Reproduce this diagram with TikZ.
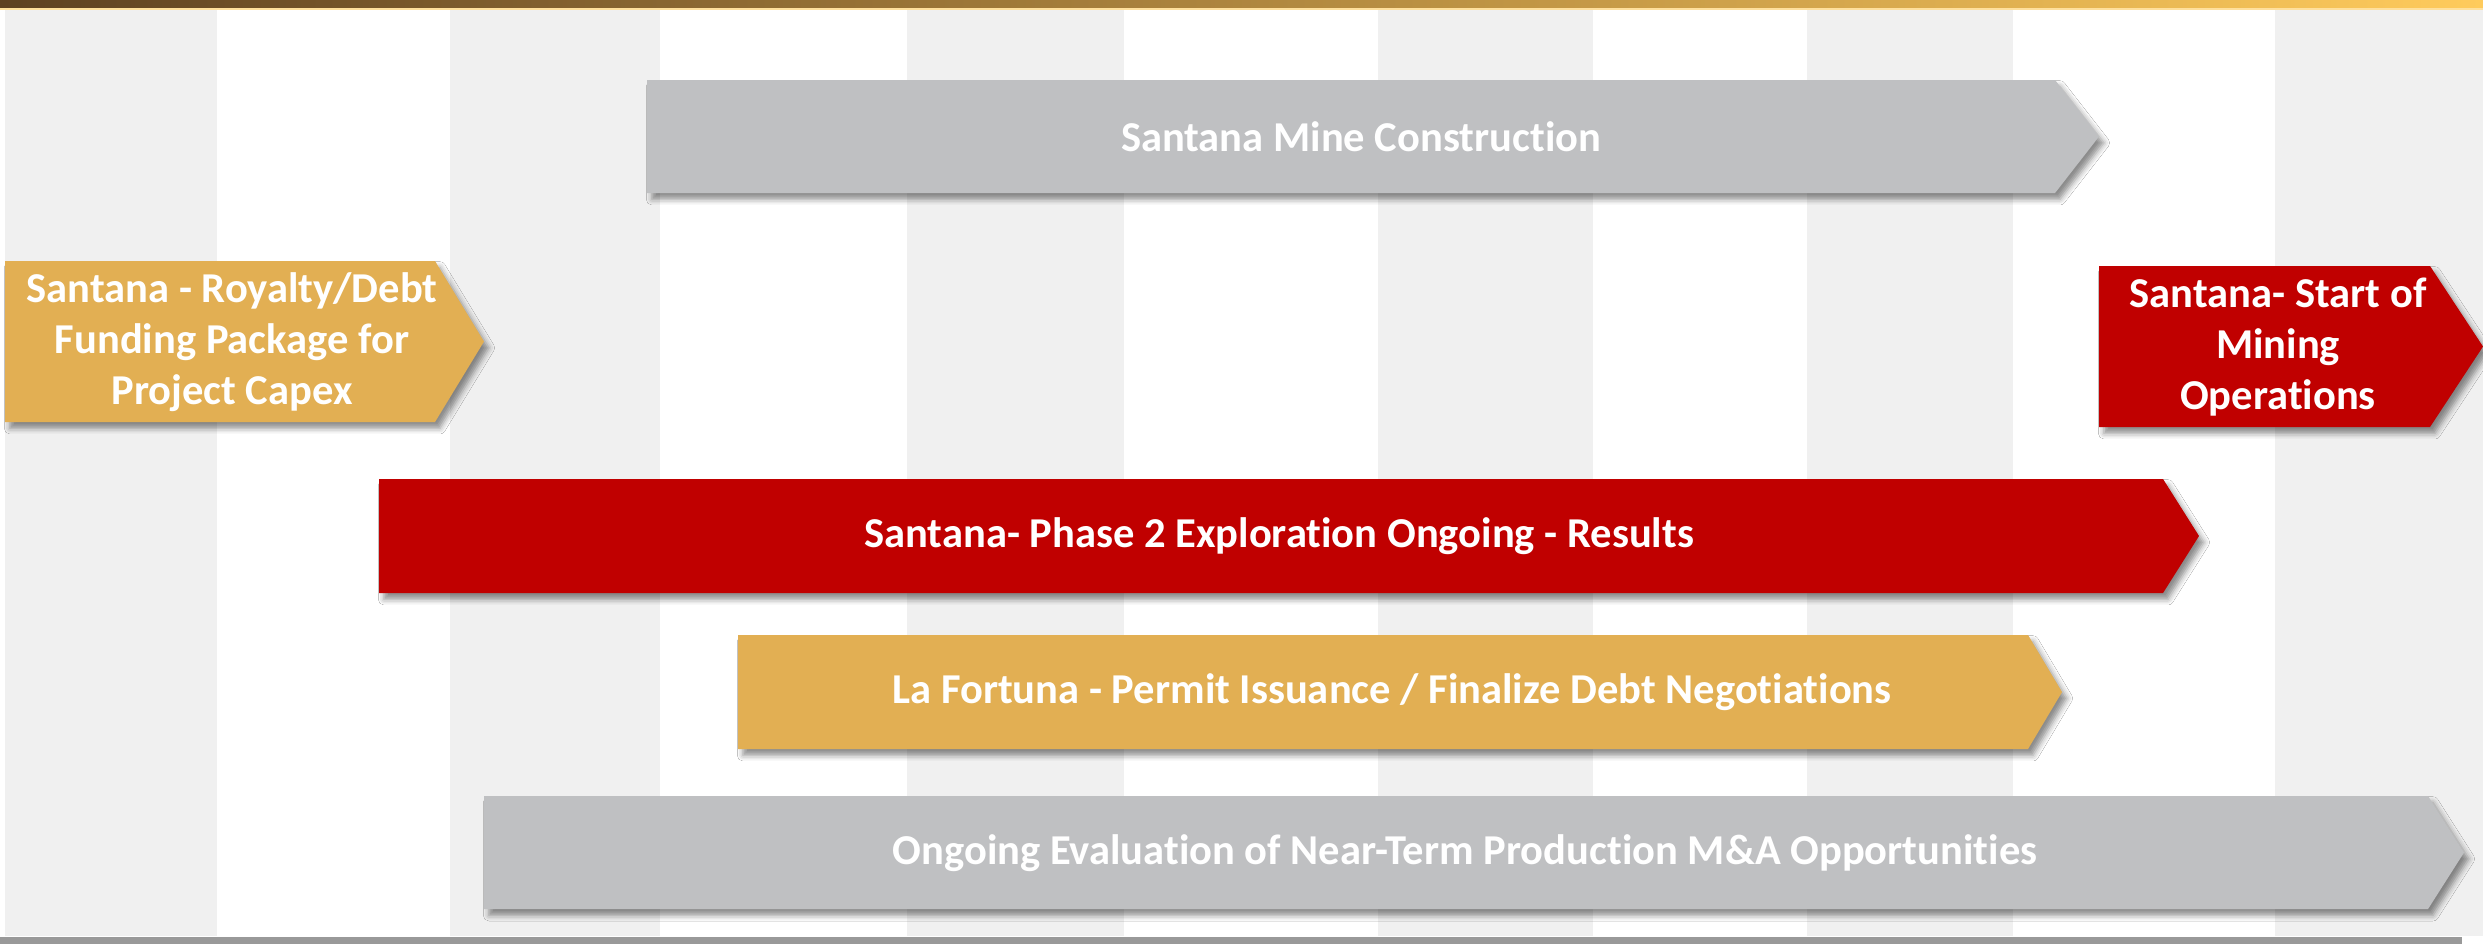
\documentclass[tikz,border=0pt]{standalone}
\usepackage{fontspec}
\setmainfont{Carlito}[Ligatures=NoCommon]
\usetikzlibrary{shadows.blur}
\definecolor{stripegray}{HTML}{F0F0F0}
\definecolor{barred}{HTML}{C00000}
\definecolor{bargold}{HTML}{E2AF53}
\definecolor{bargray}{HTML}{BFC0C2}
\definecolor{topdark}{HTML}{5E4121}
\definecolor{topgold}{HTML}{FFCB5C}
\tikzset{
  barshadow/.style={blur shadow={shadow xshift=1.4pt, shadow yshift=-1.8pt, shadow blur radius=1.6pt, shadow opacity=45}},
  bartext/.style={text=white, font=\bfseries\fontsize{12.1}{14.6}\selectfont, align=center, inner sep=0pt},
}
% fill colour, left, top, body end, bottom, tip length
\newcommand{\timebar}[6]{\fill[#1, barshadow] (#2,#3) -- (#4,#3) -- ({#4+#6},{(#3+#5)/2}) -- (#4,#5) -- (#2,#5) -- cycle;}

\begin{document}
\begin{tikzpicture}[x=0.01cm, y=-0.01cm]
      \useasboundingbox (0,0) rectangle (2483,944);
      \fill[white] (0,0) rectangle (2483,944);
      % columns
      \foreach \xa/\xb in {5/217, 450/660, 907/1124, 1378/1593, 1807/2013, 2275/2483}
        \fill[stripegray] (\xa,10) rectangle (\xb,936);
      % top and bottom bands
      \shade[left color=topdark, right color=topgold] (0,0) rectangle (2483,8);
      \fill[topgold!60!white] (0,8) rectangle (2483,10);
      \fill[black!40] (0,937) rectangle (2462,944);
      % bars
      \timebar{bargray}{647}{80}{2055}{193}{44}
      \timebar{bargold}{5}{261}{435}{422}{49}
      \timebar{barred}{2099}{266}{2430}{427}{53}
      \timebar{barred}{379}{479}{2163}{593}{36}
      \timebar{bargold}{738}{635}{2028}{749}{34}
      \timebar{bargray}{484}{796}{2428}{909}{36}
      % labels
      \node[bartext] (mine) at (1361,137) {Santana Mine Construction};
      \node[bartext] (royalty) at (232,342) {Santana - Royalty/Debt\\Funding Package for\\Project Capex};
      \node[bartext] (startops) at (2278,347) {Santana- Start of\\Mining\\Operations};
      \node[bartext] (phase2) at (1279,536) {Santana- Phase 2 Exploration Ongoing - Results};
      \node[bartext] (fortuna) at (1392,692) {La Fortuna - Permit Issuance / Finalize Debt Negotiations};
      \node[bartext] (evaluation) at (1465,853) {Ongoing Evaluation of Near-Term Production M\&A Opportunities};
\end{tikzpicture}
\end{document}
